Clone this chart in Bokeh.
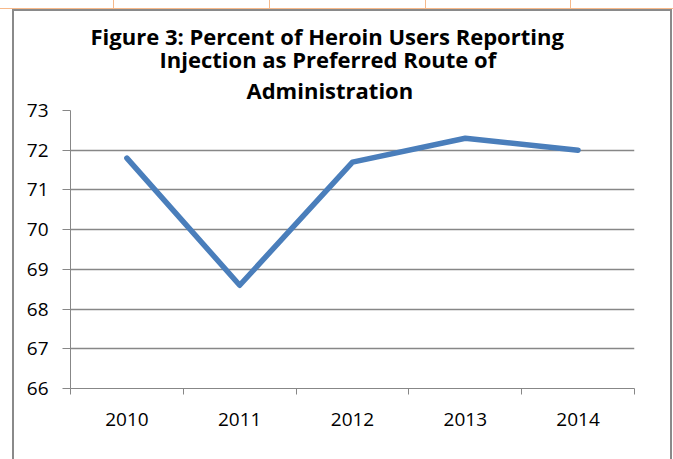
from bokeh.plotting import figure
from bokeh.models import Range1d, FixedTicker, Title, InlineStyleSheet
from bokeh.embed import file_html
from bokeh.resources import INLINE

# Data
years = ["2010", "2011", "2012", "2013", "2014"]
percent_injection = [71.8, 68.6, 71.7, 72.3, 72.0]
y_ticks = [66, 67, 68, 69, 70, 71, 72, 73]
title_lines = ["Figure 3: Percent of Heroin Users Reporting",
               "Injection as Preferred Route of",
               "Administration"]

x_pos = [i + 0.5 for i in range(len(years))]

GRID = "#878787"
FONT = "Open Sans"

p = figure(width=673, height=459, output_backend="svg", toolbar_location=None, title=None,
           x_range=Range1d(0, len(years)), y_range=Range1d(y_ticks[0], y_ticks[-1]),
           min_border_left=70, min_border_right=39, min_border_top=110, min_border_bottom=71)
p.outline_line_color = None
p.background_fill_color = "white"
p.border_fill_color = "white"

# y axis
p.yaxis.ticker = FixedTicker(ticks=y_ticks)
p.yaxis.axis_line_color = GRID
p.yaxis.major_tick_line_color = GRID
p.yaxis.major_tick_out = 8
p.yaxis.major_tick_in = 0
p.yaxis.minor_tick_line_color = None
p.yaxis.major_label_standoff = 14
p.yaxis.major_label_text_font = FONT
p.yaxis.major_label_text_font_size = "19px"
p.yaxis.major_label_text_color = "black"

# x axis: labels at category centres, ticks at category boundaries
p.xaxis.ticker = FixedTicker(ticks=x_pos, minor_ticks=list(range(len(years) + 1)))
p.xaxis.major_label_overrides = {x: y for x, y in zip(x_pos, years)}
p.xaxis.axis_line_color = GRID
p.xaxis.major_tick_line_color = None
p.xaxis.major_tick_out = 0
p.xaxis.major_tick_in = 0
p.xaxis.minor_tick_line_color = GRID
p.xaxis.minor_tick_out = 6
p.xaxis.minor_tick_in = 0
p.xaxis.major_label_standoff = 18
p.xaxis.major_label_text_font = FONT
p.xaxis.major_label_text_font_size = "19px"
p.xaxis.major_label_text_color = "black"

p.xgrid.visible = False
p.ygrid.ticker = FixedTicker(ticks=y_ticks)
p.ygrid.grid_line_color = GRID
p.ygrid.grid_line_width = 1.5

p.line(x_pos, percent_injection, line_width=5.5, line_color="#4A7EBB",
       line_cap="round", line_join="round")

# title lines (first added sits nearest the plot); left-aligned offsets centre them at x~329
for txt, so, off in zip(reversed(title_lines), [10.5, -12, -7], [176, 89, 20]):
    p.add_layout(Title(text=txt, align="left", offset=off, standoff=so,
                       text_font=FONT, text_font_style="bold", text_font_size="22px",
                       text_color="black"), "above")

# chart border and page lines (decoration)
css = """
:host::after {
  content: ""; position: absolute; left: 12px; top: 9px; width: 660px; height: 450px;
  box-sizing: border-box; border: 2px solid #8a8a8a; border-bottom: none;
  pointer-events: none; z-index: 10;
}
:host::before {
  content: ""; position: absolute; left: 0px; top: 0px; width: 673px; height: 9px;
  box-sizing: border-box; border-bottom: 1px solid #F7B98A;
  background-image: linear-gradient(#F7B98A, #F7B98A), linear-gradient(#F7B98A, #F7B98A),
                    linear-gradient(#F7B98A, #F7B98A), linear-gradient(#F7B98A, #F7B98A);
  background-size: 1px 8px; background-repeat: no-repeat;
  background-position: 113px 0, 269px 0, 425px 0, 570px 0;
  pointer-events: none; z-index: 10;
}
"""
p.stylesheets = [InlineStyleSheet(css=css)]

open("out.html", "w").write(file_html(p, INLINE))
